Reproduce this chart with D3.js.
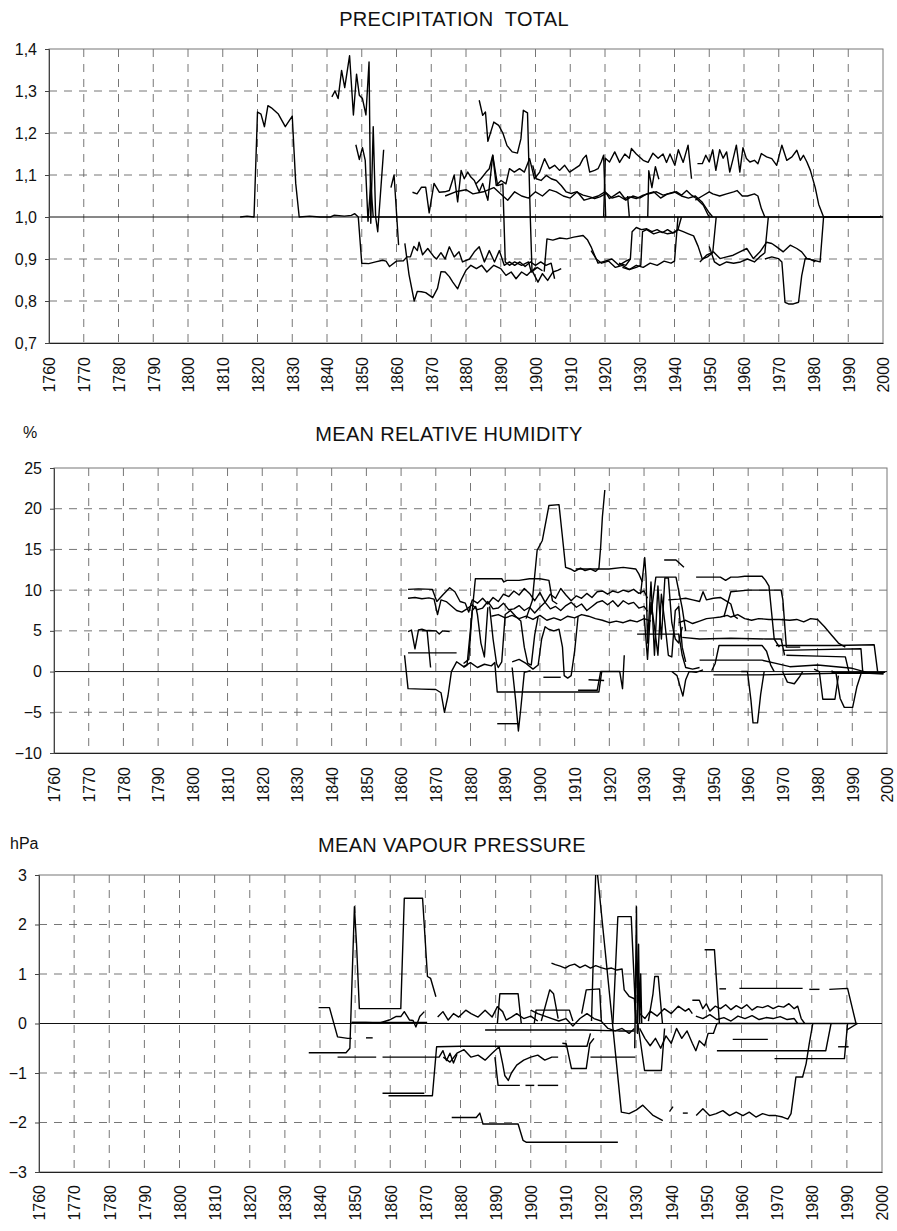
<!DOCTYPE html>
<html><head><meta charset="utf-8">
<script src="https://cdn.jsdelivr.net/npm/d3@7"></script>
<style>
body{margin:0;background:#fff}
svg{display:block}
text{font-family:"Liberation Sans",Arial,Helvetica,sans-serif;fill:#111}
</style></head>
<body><svg id="chart" width="897" height="1231"></svg>
<script>
// ---------- shared ----------
const yearTicks = d3.range(1760, 2001, 10);

// ---------- PRECIPITATION TOTAL (ratio) ----------
const precipTicks = [0.7,0.8,0.9,1.0,1.1,1.2,1.3,1.4];
const prA = [[1815,1.0],[1817,1.002],[1819,1.0],[1820,1.25],[1821,1.245],[1822,1.215],[1823,1.265],[1824,1.26],[1826,1.245],[1828,1.215],[1830,1.24],[1831,1.08],[1832,1.0],[1835,1.002],[1838,1.0],[1841,1.0],[1842,1.004],[1845,1.002],[1847,1.004],[1848,1.008],[1849,1.0],[1850,0.89],[1852,0.889],[1854,0.893],[1856,0.897],[1857,0.895],[1858,0.882],[1860,0.895],[1862,0.896],[1863,0.905],[1864,0.905],[1865,0.93],[1866,0.92],[1866.5,0.94],[1867.5,0.91],[1869,0.925],[1870.8,0.905],[1871.5,0.9],[1872.8,0.915],[1874,0.9],[1875.2,0.929],[1876.6,0.905],[1878,0.917],[1879,0.893],[1881,0.9],[1882.4,0.917],[1883.8,0.929],[1885.3,0.893],[1886.7,0.92],[1888.2,0.893],[1889.6,0.92],[1891,0.885],[1892.5,0.893],[1894,0.885],[1895.5,0.893],[1897,0.882],[1898.5,0.893],[1900,0.885],[1901.5,0.893],[1903,0.885],[1904.5,0.89],[1905.5,0.853]];
const prB = [[1841.4,1.286],[1842.3,1.30],[1843.2,1.282],[1844.2,1.349],[1845.1,1.308],[1846.5,1.384],[1847.6,1.243],[1848.5,1.34],[1849.3,1.29],[1850.2,1.282],[1851.2,1.243],[1852.1,1.369],[1852.6,0.985],[1853.3,1.215],[1854.0,1.0],[1854.6,0.965],[1856.3,1.16]];
const prC = [[1848.3,1.172],[1849.3,1.137],[1850.2,1.165],[1851,1.135],[1851.8,0.99],[1852.6,1.08],[1853.3,1.0]];
const prD = [[1858.4,1.07],[1859.3,1.10],[1860.6,0.933]];
const prE = [[1862.4,0.937],[1863.6,0.863],[1865.1,0.80],[1866,0.823],[1867.2,0.822],[1868.4,0.82],[1870.4,0.808],[1871.8,0.83],[1872.8,0.87],[1874,0.869],[1875.2,0.858],[1876.2,0.845],[1877.6,0.829],[1878.6,0.85],[1880,0.873],[1881.4,0.885],[1883,0.877],[1884.5,0.885],[1886,0.869],[1888,0.885],[1890,0.877],[1891.5,0.861],[1893,0.869],[1894.4,0.853],[1896,0.869],[1897.5,0.861],[1899,0.873],[1900.7,0.845],[1902,0.865],[1903.5,0.849],[1905,0.869],[1906.4,0.873],[1907.4,0.877]];
const prF = [[1864.6,1.059],[1865.9,1.055],[1867.2,1.071],[1868.4,1.071],[1869.4,1.01],[1870.8,1.08],[1872.3,1.059],[1873.9,1.06],[1875.2,1.063],[1876.6,1.10],[1877.6,1.036],[1878.6,1.111],[1879.5,1.091],[1880.5,1.107],[1881.4,1.095],[1882.4,1.087],[1883.8,1.06],[1884.8,1.08],[1886.3,1.04],[1887.7,1.147],[1889.1,1.075],[1890.6,1.079],[1891.3,0.893],[1892.5,0.885],[1894,0.893],[1896,0.885],[1898,0.893],[1898.8,0.869],[1900,0.88]];
const prG = [[1883.8,1.278],[1884.8,1.242],[1885.6,1.25],[1886.3,1.18],[1888,1.226],[1889.4,1.218],[1890.6,1.20],[1891.8,1.17],[1893.3,1.155],[1894.8,1.152],[1895.8,1.186],[1896.5,1.254],[1897.7,1.248],[1898.5,1.0],[1899,0.87],[1900.5,0.88],[1902,0.872]];
const prH = [[1919.6,1.0],[1920.1,1.14],[1921.3,1.131],[1922.8,1.155],[1924.2,1.13],[1925.7,1.15],[1927,1.14],[1927.6,1.163],[1929,1.15],[1931,1.135],[1932.4,1.13],[1933.8,1.152],[1935.3,1.14],[1936.7,1.15],[1937.7,1.13],[1938.7,1.15],[1940.1,1.123],[1941.1,1.16],[1942.5,1.13],[1943.9,1.171],[1944.9,1.091]];
const prH2 = [[1946.6,1.127],[1948,1.127],[1949,1.147],[1950,1.131],[1951,1.16],[1951.9,1.111],[1953,1.16],[1954,1.14],[1955,1.155],[1955.9,1.107],[1957,1.143],[1957.8,1.171],[1958.8,1.107],[1959.7,1.165],[1960.7,1.139],[1961.7,1.131],[1963,1.135],[1964,1.127],[1965,1.151],[1966.5,1.143],[1968,1.139],[1969.4,1.123],[1970.9,1.171],[1972.3,1.135],[1973.8,1.143],[1975.2,1.159],[1976.2,1.135],[1977.1,1.147],[1978.1,1.131],[1979.1,1.111],[1980.5,1.07],[1981.5,1.03],[1982.9,1.0],[1999,1.0],[1999.5,1.003]];
const prI = [[1882.9,1.079],[1884.3,1.091],[1885.8,1.107],[1886.7,1.115],[1887.7,1.147],[1888.7,1.075],[1890.1,1.087],[1891.5,1.079],[1892.5,1.115],[1893.9,1.107],[1895.4,1.115],[1896.8,1.107],[1898.3,1.139],[1899.7,1.091],[1901.2,1.107],[1902.6,1.139],[1904,1.115],[1905.5,1.123],[1906.9,1.111],[1908.4,1.123],[1909.8,1.107],[1911.3,1.115],[1912.7,1.123],[1913.7,1.139],[1914.6,1.147],[1915.6,1.107],[1917,1.111],[1918,1.115],[1918.9,1.131],[1919.6,1.147],[1920.2,1.0]];
const prM2 = [[1874,1.05],[1877,1.06],[1880,1.065],[1882,1.055],[1885,1.06],[1888,1.07],[1890,1.055],[1892,1.04],[1894,1.06],[1896,1.05],[1898,1.045],[1900,1.06],[1902,1.05],[1904,1.065],[1906,1.06],[1908,1.05],[1910,1.045],[1912,1.06],[1914,1.04],[1916,1.045],[1918,1.05],[1920,1.06],[1922,1.045],[1924,1.05],[1926,1.04],[1928,1.05],[1930,1.045],[1932,1.055],[1934,1.06],[1936,1.045],[1938,1.055],[1940,1.06],[1942,1.05],[1944,1.045],[1946,1.05],[1948,1.035],[1950,1.01],[1951,1.0]];
const prM3 = [[1899.2,1.123],[1900.2,1.091],[1901.6,1.087],[1903.1,1.099],[1904.5,1.091],[1906,1.087],[1907.4,1.075],[1908.8,1.06],[1910.3,1.056],[1911.7,1.06],[1913.7,1.052],[1915.6,1.048],[1917,1.044],[1918.5,1.048],[1920.4,1.056],[1921.3,1.044],[1922.8,1.052],[1924.2,1.06],[1925.7,1.044],[1927.1,1.048],[1929,1.044],[1931,1.052],[1932.9,1.056],[1934.8,1.06],[1936.7,1.052],[1938.7,1.056],[1940.6,1.06],[1942,1.052],[1943.5,1.063],[1944.9,1.052],[1946.3,1.044],[1948.3,1.028],[1949.7,1.004],[1950.2,1.0]];
const prM4 = [[1946,1.04],[1948,1.05],[1950,1.06],[1951,1.055],[1953,1.05],[1955,1.055],[1957,1.06],[1958,1.063],[1959.5,1.05],[1961,1.05],[1963,1.055],[1964,1.05],[1965,1.02],[1966,1.0]];
const prN1 = [[1902.5,0.87],[1903.3,0.948],[1905,0.945],[1907,0.95],[1909,0.948],[1911,0.952],[1913.7,0.956],[1915,0.945],[1916,0.929],[1917,0.909],[1918,0.89],[1920,0.895],[1922,0.9],[1924,0.885],[1926,0.895],[1927.3,0.9]];
const prN2 = [[1924,0.89],[1926,0.885],[1927.3,0.9],[1927.8,0.965],[1929,0.975],[1930.5,0.97],[1932,0.972],[1933.5,0.965],[1935,0.97],[1936.5,0.963],[1938,0.97],[1939.5,0.962],[1941,0.97],[1942.5,0.965],[1944,0.96],[1945.5,0.955],[1946.8,0.93],[1948,0.9],[1949.5,0.905],[1951,0.915],[1952,1.0]];
const prN2b = [[1925,0.88],[1927,0.875],[1929,0.88],[1930.3,0.885],[1930.8,0.965],[1932,0.97],[1934,0.96],[1936,0.965],[1938,0.96],[1940,0.963],[1941,0.97],[1942,1.0]];
const prN3 = [[1916,0.92],[1917.5,0.9],[1919,0.89],[1921,0.895],[1923,0.88],[1925,0.885],[1927,0.875],[1929,0.885],[1931,0.88],[1933,0.89],[1935,0.885],[1937,0.895],[1939,0.89],[1940,0.895],[1941,1.0]];
const prN4 = [[1947.3,0.893],[1949.2,0.909],[1951.2,0.917],[1953.1,0.901],[1955,0.905],[1956.9,0.909],[1958.8,0.917],[1960.8,0.925],[1962.7,0.901],[1964.6,0.917],[1966.5,0.94],[1968,0.937],[1969.4,0.929],[1971.3,0.917],[1973.3,0.933],[1975.2,0.925],[1976.6,0.917],[1978.1,0.901],[1980,0.897],[1981.9,0.893],[1982.9,1.0]];
const prN5 = [[1966,0.9],[1968,0.905],[1969.9,0.901],[1970.9,0.893],[1971.8,0.797],[1972.8,0.793],[1974.2,0.793],[1975.7,0.797],[1976.6,0.86],[1977.6,0.901],[1979,0.9],[1980.5,0.893]];
const prN6 = [[1950,0.93],[1951.5,0.893],[1953,0.885],[1955,0.893],[1957,0.89],[1959,0.893],[1961,0.9],[1963,0.893],[1964.5,0.905],[1966,0.915],[1967,1.0]];
const prV = [[1926.5,1.05],[1927,1.0]];
const prV2 = [[1932.3,1.0],[1932.6,1.11],[1933.5,1.07],[1934.5,1.12],[1935.5,1.09]];
const prZ = [[1850,1.0],[2000,1.0]];
const precipSeries = [prA,prB,prC,prD,prE,prF,prG,prH,prH2,prI,prM2,prM3,prM4,prN1,prN2,prN2b,prN3,prN4,prN5,prN6,prV,prV2,prZ];

// ---------- MEAN RELATIVE HUMIDITY (%) ----------
const humTicks = [-10,-5,0,5,10,15,20,25];
const hA = [[1862,10.1],[1865,10.15],[1869,10.1],[1870.3,8.6],[1872,9.4],[1874,10.3],[1875.5,9.8],[1877,8.6],[1878.5,8.4],[1879.5,7.3],[1880.5,8.8],[1882,8.4],[1883.5,9.0],[1885,8.3],[1886.5,9.1],[1888,8.6],[1889.5,9.5],[1891,9.2],[1892.5,9.9],[1894,9.4],[1895.5,10.2],[1897,9.6],[1898.5,8.7],[1900,9.7],[1901.5,8.5],[1903,9.5],[1904.5,9.0],[1906,10.2],[1907.5,9.4],[1909,8.7],[1910.5,9.3],[1912,9.0],[1913.5,9.6],[1915,9.1],[1916.5,9.8],[1918,9.9],[1919.5,9.5],[1921,9.9],[1922.5,9.7],[1924,10.0],[1925.5,9.8],[1927,10.1],[1928.5,9.6],[1930,9.9],[1931,9.0]];
const hB = [[1862,9.0],[1864,9.1],[1866,8.95],[1868,9.05],[1869.5,8.9],[1870.5,7.0],[1871.5,8.8],[1873,8.6],[1876,7.5],[1877.5,7.3],[1879,7.7],[1880.5,8.2],[1882,7.6],[1883.5,7.8],[1885,8.6],[1886.5,7.7],[1888,7.8],[1889.5,8.4],[1891,7.6],[1892.5,7.7],[1894,8.1],[1895.5,7.5],[1897,7.9],[1898.5,7.2],[1900,7.9],[1901.5,8.5],[1903,7.7],[1904.5,8.0],[1906,7.5],[1907.5,8.1],[1909,8.5],[1910.5,7.9],[1912,8.3],[1913.5,7.5],[1915,8.0],[1916.5,8.5],[1918,8.7],[1919.5,8.2],[1921,8.7],[1922.5,8.0],[1924,8.7],[1925.5,8.3],[1927,8.5],[1928.5,7.8],[1930,8.0],[1931,7.4]];
const hC = [[1862,4.9],[1863,5.1],[1864,2.8],[1865,5.1],[1866,5.2],[1867.5,5.0],[1868.5,0.5]];
const hD = [[1866,5.0],[1868,5.05],[1870,5.0],[1871,4.6],[1872,5.0],[1874,4.9]];
const hE = [[1862,2.3],[1876,2.3]];
const hF = [[1861,2.0],[1862,-2.1],[1866,-2.15],[1870,-2.2],[1871.5,-2.6],[1872.5,-5.0],[1873.5,-3.0],[1874.5,0.0],[1876,1.2],[1878,0.6],[1880,1.1],[1882,0.5],[1884,0.9],[1886,0.7],[1887,1.1],[1887.7,-2.5],[1917,-2.5],[1917.8,0.0]];
const hG = [[1878,0.5],[1879,0.8],[1881.4,11.4],[1889,11.4],[1889.6,11.0],[1890.5,11.2],[1894,11.2],[1897,11.4],[1900,11.4],[1902.6,11.2],[1903.6,8.7],[1905,8.3]];
const hH = [[1896,6.5],[1897.8,8.7],[1899.2,14.9],[1900.7,16.1],[1902.6,20.4],[1905.5,20.5],[1906.4,16.9],[1907.4,12.8],[1908.8,12.6],[1910,12.3],[1911.7,12.7],[1913,12.4],[1914.5,12.6],[1916,12.3],[1917,12.7],[1917.5,15.3],[1918,19.0],[1918.7,22.3]];
const hI = [[1910.3,12.6],[1915,12.6],[1919.9,12.6],[1924,12.8],[1927.6,12.6],[1928.5,12.0],[1929.5,11.0]];
const hJ = [[1929,9.5],[1929.8,12.5],[1930.2,14.0],[1930.6,11.5],[1931,3.5],[1932,11.0],[1933,2.0],[1934,10.5],[1935,4.0],[1936,11.5],[1937,11.5],[1938,6.0],[1939,4.0],[1940,3.5],[1941,5.5]];
const hK = [[1930,7.0],[1931,1.5],[1932,8.5],[1933,5.5],[1934,2.0],[1935,9.5],[1936,6.0],[1937,2.0],[1938,1.8],[1939,7.5],[1940,8.0],[1941,3.0],[1942,1.2]];
const hL = [[1932,7.0],[1933.4,11.6],[1939.2,11.6],[1941,7.8],[1942,5.0]];
const hM = [[1928,4.6],[1933,4.6],[1938,4.6],[1940,4.6],[1941,2.0],[1942,0.5],[1944,0.3],[1946,0.5]];
const hN = [[1935.8,13.7],[1939.2,13.7],[1941.5,12.8]];
const hO = [[1937,8.8],[1940,8.9],[1942,9.0],[1944,8.8],[1946,8.6],[1947,9.8],[1948,8.8],[1950,9.0],[1952,9.1],[1954,8.6],[1955,8.3],[1956,6.8],[1957,6.5]];
const hP = [[1940,6.0],[1942,6.3],[1944,5.9],[1946,6.2],[1948,6.5],[1950,6.6],[1952,6.7],[1954,6.9],[1955,6.7],[1957,7.0],[1959,6.5],[1961,6.3],[1963,6.5],[1966,6.4],[1969,6.4],[1972,6.3],[1974,6.4],[1976,6.1],[1978,6.5],[1980,6.4],[1982,5.5],[1984,4.5],[1986,3.5],[1988,3.0]];
const hQ = [[1945,11.6],[1947,11.6],[1952,11.6],[1953.5,11.2],[1955,11.6],[1957,11.6],[1959,11.7],[1962,11.7],[1964,11.7],[1965,11.2],[1966,10.5],[1967.5,4.0],[1969,3.0]];
const hR = [[1953,6.7],[1955,9.8],[1960,10.0],[1965,10.0],[1969.5,10.0],[1970,8.8],[1971,3.0],[1975,3.0]];
const hS = [[1949.5,0.1],[1950.5,1.0],[1951.6,3.2],[1964,3.2],[1965.3,2.5],[1966.5,0.8],[1967.5,0.0]];
const hT = [[1941,4.2],[1946,4.0],[1955,4.1],[1965,4.0],[1969.5,4.0],[1970.5,2.0]];
const hU = [[1968,3.2],[1975,3.2],[1985,3.2],[1996.3,3.3],[1997.3,0.0]];
const hV = [[1970,2.6],[1980,2.7],[1992.5,2.8],[1993,0.0]];
const hW = [[1971,2.0],[1980,1.9],[1988,1.8],[1989,0.0]];
const hX = [[1958,0.0],[1959.8,0.0],[1960.8,-3.5],[1961.4,-6.3],[1962.7,-6.3],[1963.6,-2.8],[1964.6,0.0]];
const hY = [[1984,0.1],[1985.3,-0.2],[1986.5,-3.3],[1987.7,-4.4],[1990.1,-4.4],[1991.3,-1.9],[1992.5,-0.3]];
const hZ = [[1979,0.3],[1980.5,0.0],[1981.5,-3.4],[1985,-3.4],[1986,-0.5]];
const h1 = [[1969.9,0.0],[1971.3,-1.3],[1973.3,-1.5],[1974.7,-0.7],[1975.7,0.0]];
const h2 = [[1887.7,-6.4],[1894,-6.4]];
const h3 = [[1892,0.5],[1893,-3.5],[1893.8,-7.3],[1894.5,-4.5],[1895.5,-0.1],[1897.3,0.1]];
const h4 = [[1938,0.0],[1939.5,-0.5],[1940.5,-2.0],[1941.2,-3.0],[1942,-1.0],[1943,0.0],[1945,-0.1],[1947,0.2]];
const h5 = [[1878,1.0],[1879.5,1.5],[1880.5,7.5],[1881.5,8.0],[1882,7.0],[1883,3.5],[1884,1.8],[1885,7.9]];
const h6 = [[1885.5,8.0],[1886.5,4.0],[1887.5,1.0],[1888,0.5],[1889,1.2],[1890,7.0],[1891.5,7.5],[1893,6.8],[1894.5,6.2],[1895.5,3.0],[1896.5,1.0],[1897.5,0.8],[1898.5,4.5],[1899.5,6.8]];
const h7 = [[1892,1.2],[1894,1.5],[1896,1.0],[1898,0.3],[1899.5,0.8],[1900.5,4.0],[1901.5,5.5],[1902.5,5.2],[1904,5.0],[1905.5,5.2],[1906.5,3.0],[1907,-0.5],[1908,-0.8],[1909,-0.5],[1910,2.5],[1911,6.8]];
const h8 = [[1886,6.8],[1888,7.0],[1890,6.6],[1892,6.9],[1894,6.5],[1896,6.8],[1898,6.4],[1900,6.9],[1902,6.3],[1904,6.6],[1906,6.3],[1908,6.8],[1910,6.6],[1912,7.0],[1914,6.8],[1916,6.5],[1918,6.3],[1920,6.0],[1922,6.2],[1924,6.0],[1926,6.3],[1928,6.1],[1930,6.5],[1932,6.2]];
const h9 = [[1911,-2.3],[1916.5,-2.3],[1917.5,0.0],[1923,0.0],[1923.8,-2.1],[1924.3,2.0]];
const h10 = [[1901,-0.7],[1906,-0.7]];
const h11 = [[1914,-1.0],[1918.5,-1.1]];
const h12 = [[1946,1.4],[1964,1.4],[1968,1.0],[1972,0.6],[1980,0.8],[1990,0.4],[1995,-0.2],[1999,-0.3]];
const h13 = [[1950,-0.4],[1964,-0.4],[1975,-0.3],[1985,-0.2],[1999,-0.2]];
const h14 = [[1984,-0.1],[1999.5,-0.1]];
const humSeries = [hA,hB,hC,hD,hE,hF,hG,hH,hI,hJ,hK,hL,hM,hN,hO,hP,hQ,hR,hS,hT,hU,hV,hW,hX,hY,hZ,h1,h2,h3,h4,h5,h6,h7,h8,h9,h10,h11,h12,h13,h14];

// ---------- MEAN VAPOUR PRESSURE (hPa) ----------
const vapTicks = [-3,-2,-1,0,1,2,3];
const vA = [[1836.8,-0.59],[1845,-0.59],[1847.4,-0.59],[1848.5,-0.5],[1849.8,2.36],[1850.4,1.6],[1851.2,0.3],[1863,0.3],[1864,2.53],[1869.2,2.53],[1870.6,0.95],[1871.5,0.91],[1873,0.54]];
const vB = [[1839.6,0.32],[1842.7,0.32],[1845,-0.27],[1847.9,-0.3],[1849,-0.3]];
const vC = [[1849,0.02],[1853,0.02],[1857,0.01],[1859.7,0.07],[1861.6,0.14],[1863,0.14],[1864,0.24],[1865.5,0.07],[1866.5,0.06],[1867.3,-0.07],[1868.4,0.14],[1869.7,0.24]];
const vC2 = [[1849,0.02],[1870.5,0.02]];
const vD = [[1853.1,-0.29],[1855,-0.29]];
const vE = [[1845,-0.68],[1856,-0.68]];
const vE2 = [[1857.8,-0.68],[1873.9,-0.68],[1875,-0.55],[1876,-0.75],[1877,-0.6],[1878,-0.8],[1879,-0.62]];
const vF = [[1857.8,-1.41],[1869.7,-1.41]];
const vG = [[1859.5,-1.46],[1872,-1.46],[1873.2,-0.47],[1880,-0.46],[1890,-0.46],[1900,-0.46],[1910,-0.46],[1916,-0.46],[1917,-0.2]];
const vH = [[1917.3,0.05],[1918.6,3.3],[1925.8,-1.79],[1928,-1.82],[1930,-1.75],[1931.9,-1.65],[1933.3,-1.75],[1934.7,-1.85],[1937.6,-1.96]];
const vH2 = [[1939.5,-1.78],[1940.5,-1.68]];
const vH3 = [[1943.3,-1.81],[1944.7,-1.81]];
const vH4 = [[1947.1,-1.86],[1949,-1.72],[1950.9,-1.86],[1952.8,-1.82],[1954.7,-1.76],[1956.6,-1.86],[1958.5,-1.79],[1960.4,-1.86],[1962.2,-1.79],[1964.1,-1.89],[1966,-1.82],[1967.9,-1.86],[1969.8,-1.86],[1971.7,-1.89],[1973.2,-1.93],[1974.1,-1.82],[1975.5,-1.08],[1977.4,-1.08],[1978.4,-0.81],[1979.3,-0.4],[1980.3,0.0]];
const vI = [[1905.9,1.22],[1907,1.19],[1908.4,1.16],[1909.8,1.12],[1911,1.17],[1912.5,1.2],[1914,1.13],[1915.5,1.18],[1917,1.12],[1918.5,1.17],[1920,1.13],[1921.5,1.1],[1923,1.12],[1924.5,1.08],[1926,1.1],[1926.6,0.68],[1928,0.55],[1929.5,0.5],[1930,0.0]];
const vJ = [[1923.4,0.0],[1924.8,2.16],[1928.6,2.16],[1930,0.0]];
const vK = [[1929.6,-0.5],[1930.1,2.36],[1930.4,-0.2],[1930.7,1.6],[1931,0.0],[1931.3,1.0],[1931.6,0.0]];
const vL = [[1890.5,0.0],[1891.2,0.6],[1896.4,0.6],[1897.3,0.0]];
const vM = [[1903,0.05],[1905.4,0.68],[1906.5,0.6],[1907.8,0.1]];
const vN = [[1914.5,0.2],[1915.8,0.68],[1919.6,0.7],[1920.1,0.05]];
const vO = [[1933.5,0.05],[1934.8,0.6],[1935.3,0.95],[1936.3,0.95],[1937.5,0.0]];
const vP = [[1949.5,1.49],[1952.3,1.49],[1953.7,0.0]];
const vQ = [[1953.7,0.7],[1955.6,0.7]];
const vQ2 = [[1959.4,0.71],[1977.4,0.71]];
const vQ3 = [[1979.3,0.69],[1982.2,0.69]];
const vQ4 = [[1985,0.69],[1990.2,0.71],[1992.6,0.0]];
const vR = [[1946,0.47],[1948,0.47],[1949,0.3],[1950,0.4],[1951,0.25],[1952.5,0.35],[1954,0.3],[1955.5,0.38],[1957,0.28],[1958.5,0.36],[1960,0.3],[1961.5,0.38],[1963,0.27],[1964.5,0.34],[1966,0.32],[1967.5,0.36],[1969,0.3],[1970.5,0.35],[1972,0.33],[1973.5,0.4],[1975,0.3],[1976,0.35],[1977,0.1],[1978,0.0]];
const vS = [[1947,0.15],[1949,0.1],[1951,0.18],[1953,0.08],[1955,0.12],[1957,0.05],[1959,0.15],[1961,0.1],[1963,0.16],[1965,0.08],[1967,0.12],[1969,0.1],[1971,0.14],[1973,0.08],[1975,0.1],[1976,0.0]];
const vT = [[1953,-0.55],[1965,-0.55],[1975,-0.55],[1984,-0.55],[1985.5,0.0]];
const vU = [[1969.4,-0.71],[1989.3,-0.71],[1990.2,0.0]];
const vV = [[1957.5,-0.32],[1967.5,-0.32]];
const vW = [[1987.5,-0.47],[1990.5,-0.47]];
const vX = [[1990,-0.13],[1993,0.0]];
const vY = [[1930.5,0.0],[1932.4,-0.95],[1937.2,-0.95],[1938.1,-0.1]];
const vZ = [[1909,-0.4],[1910.1,-0.41],[1911.6,-0.91],[1915.8,-0.91],[1916.8,-0.41],[1918,-0.3]];
const v1 = [[1889.8,-0.68],[1890.7,-1.25],[1896.9,-1.25]];
const v2 = [[1898.5,-1.25],[1901,-1.25]];
const v3 = [[1902,-1.25],[1907.8,-1.25]];
const v4 = [[1877.5,-1.9],[1884.5,-1.9],[1885.5,-1.81],[1886.4,-2.03],[1896.4,-2.03],[1897.8,-2.36],[1898.8,-2.4],[1924.8,-2.4]];
const v5 = [[1875.1,-0.68],[1877,-0.78],[1879,-0.6],[1881,-0.53],[1883,-0.68],[1885,-0.64],[1887,-0.74],[1889,-0.6],[1891,-0.47],[1892,-0.81],[1892.6,-1.05],[1893.6,-1.15],[1894.5,-1.0],[1896,-0.84],[1898,-0.74],[1900,-0.68],[1902,-0.64],[1904,-0.74],[1906,-0.68],[1907.8,-0.68]];
const v6 = [[1873.5,0.13],[1875,0.24],[1876.5,0.07],[1878,0.2],[1879.5,0.13],[1881.5,0.27],[1883,0.2],[1885,0.13],[1887,0.27],[1889,0.13],[1890.5,0.34],[1892,0.24],[1893,0.07],[1894.5,0.13],[1896,0.2],[1898,0.1],[1900,0.15],[1902,0.05]];
const v7 = [[1900,0.27],[1902,0.2],[1904,0.15],[1906,0.1],[1908,0.05],[1910,0.1],[1912,-0.05],[1914,0.1],[1916,0.2],[1918,0.1],[1920,0.05],[1922,-0.1],[1924,-0.15],[1926,-0.1],[1928,-0.2],[1929.5,-0.1]];
const v8 = [[1887,-0.13],[1895,-0.13],[1905,-0.13],[1915,-0.13],[1925,-0.15],[1929.5,-0.15]];
const v9 = [[1917,-0.68],[1925,-0.68],[1929.8,-0.68]];
const v10 = [[1931,-0.1],[1932.5,-0.3],[1934,-0.45],[1935.5,-0.3],[1937,-0.5],[1938.5,-0.25],[1940,-0.4],[1941.5,-0.1],[1943,-0.3],[1944.5,-0.15],[1946,-0.4],[1947,-0.55],[1948,-0.35],[1949.5,-0.45],[1950.5,-0.2],[1952,-0.2],[1953,0.0]];
const v11 = [[1931,0.2],[1932.5,0.1],[1934,0.25],[1936,0.15],[1938,0.3],[1940,0.2],[1942,0.35],[1944,0.25],[1945,0.3],[1946,0.2]];
const v12 = [[1901,0.0],[1901.5,0.27],[1911,0.27],[1912,0.05]];
const v13 = [[1953,0.0],[1993,0.0]];
const vapSeries = [vA,vB,vC,vC2,vD,vE,vE2,vF,vG,vH,vH2,vH3,vH4,vI,vJ,vK,vL,vM,vN,vO,vP,vQ,vQ2,vQ3,vQ4,vR,vS,vT,vU,vV,vW,vX,vY,vZ,v1,v2,v3,v4,v5,v6,v7,v8,v9,v10,v11,v12,v13];

// ---------- drawing ----------
const svg = d3.select('#chart');
const FONT = '"Liberation Sans",Arial,Helvetica,sans-serif';

function drawPanel(cfg, idx) {
  const x = d3.scaleLinear().domain([1760, 2000]).range([cfg.left, cfg.right]);
  const y = d3.scaleLinear().domain(cfg.domain).range([cfg.bottom, cfg.top]);
  const g = svg.append('g');

  const cid = 'clip' + idx;
  svg.append('clipPath').attr('id', cid).append('rect')
    .attr('x', cfg.left).attr('y', cfg.top)
    .attr('width', cfg.right - cfg.left).attr('height', cfg.bottom - cfg.top);

  g.append('g').selectAll('line').data(yearTicks.slice(1, -1)).join('line')
    .attr('x1', d => x(d)).attr('x2', d => x(d))
    .attr('y1', cfg.top).attr('y2', cfg.bottom)
    .attr('stroke', '#666').attr('stroke-width', 0.9).attr('stroke-dasharray', '8,7');
  g.append('g').selectAll('line')
    .data(cfg.ticks.filter(t => t !== cfg.ref && t !== cfg.domain[0] && t !== cfg.domain[1])).join('line')
    .attr('x1', cfg.left).attr('x2', cfg.right)
    .attr('y1', d => y(d)).attr('y2', d => y(d))
    .attr('stroke', '#666').attr('stroke-width', 0.9).attr('stroke-dasharray', '8,7');

  g.append('rect').attr('x', cfg.left).attr('y', cfg.top)
    .attr('width', cfg.right - cfg.left).attr('height', cfg.bottom - cfg.top)
    .attr('fill', 'none').attr('stroke', '#777').attr('stroke-width', 1);

  g.append('line').attr('x1', cfg.left).attr('x2', cfg.right)
    .attr('y1', y(cfg.ref)).attr('y2', y(cfg.ref))
    .attr('stroke', '#111').attr('stroke-width', 1);

  const line = d3.line().x(d => x(d[0])).y(d => y(d[1]));
  g.append('g').attr('clip-path', `url(#${cid})`)
    .selectAll('path').data(cfg.series).join('path')
    .attr('d', line).attr('fill', 'none')
    .attr('stroke', '#000').attr('stroke-width', 1.4).attr('stroke-linejoin', 'round');

  const ya = g.append('g').attr('transform', `translate(${cfg.left},0)`)
    .call(d3.axisLeft(y).tickValues(cfg.ticks).tickFormat(cfg.fmt).tickSize(4).tickPadding(8));
  ya.select('.domain').attr('stroke', '#444');
  ya.selectAll('.tick line').attr('stroke', '#444');
  ya.selectAll('text').attr('font-size', 16).attr('font-family', FONT).attr('fill', '#111');

  const xa = g.append('g').attr('transform', `translate(0,${cfg.bottom})`)
    .call(d3.axisBottom(x).tickValues(yearTicks).tickFormat(d3.format('d')).tickSize(0));
  xa.select('.domain').attr('stroke', '#222').attr('stroke-width', 1.2);
  xa.selectAll('text')
    .attr('transform', 'rotate(-90)').attr('x', -cfg.labelGap).attr('y', 0)
    .attr('dy', '0.36em').attr('text-anchor', 'end')
    .attr('font-size', 16).attr('font-family', FONT).attr('fill', '#111');

  svg.append('text').attr('x', cfg.titleX).attr('y', cfg.titleY)
    .attr('text-anchor', 'middle').attr('font-size', 20).attr('letter-spacing', 0.3)
    .style('white-space', 'pre')
    .text(cfg.title);
  if (cfg.unit) {
    svg.append('text').attr('x', cfg.unitX).attr('y', cfg.unitY)
      .attr('font-size', 16).text(cfg.unit);
  }
}

const comma = f => (v => f(v).replace('.', ','));

drawPanel({left: 49, right: 883, top: 49, bottom: 343, domain: [0.7, 1.4], ref: 1.0,
  ticks: precipTicks, fmt: comma(d3.format('.1f')), series: precipSeries,
  title: 'PRECIPITATION  TOTAL', titleX: 454, titleY: 26, labelGap: 14}, 0);

drawPanel({left: 54, right: 887, top: 468, bottom: 753, domain: [-10, 25], ref: 0,
  ticks: humTicks, fmt: d3.format('d'), series: humSeries,
  title: 'MEAN RELATIVE HUMIDITY', titleX: 449, titleY: 441, labelGap: 14,
  unit: '%', unitX: 23, unitY: 438}, 1);

drawPanel({left: 39, right: 882, top: 875, bottom: 1172, domain: [-3, 3], ref: 0,
  ticks: vapTicks, fmt: d3.format('d'), series: vapSeries,
  title: 'MEAN VAPOUR PRESSURE', titleX: 452, titleY: 852, labelGap: 13,
  unit: 'hPa', unitX: 10, unitY: 849}, 2);
</script></body></html>
